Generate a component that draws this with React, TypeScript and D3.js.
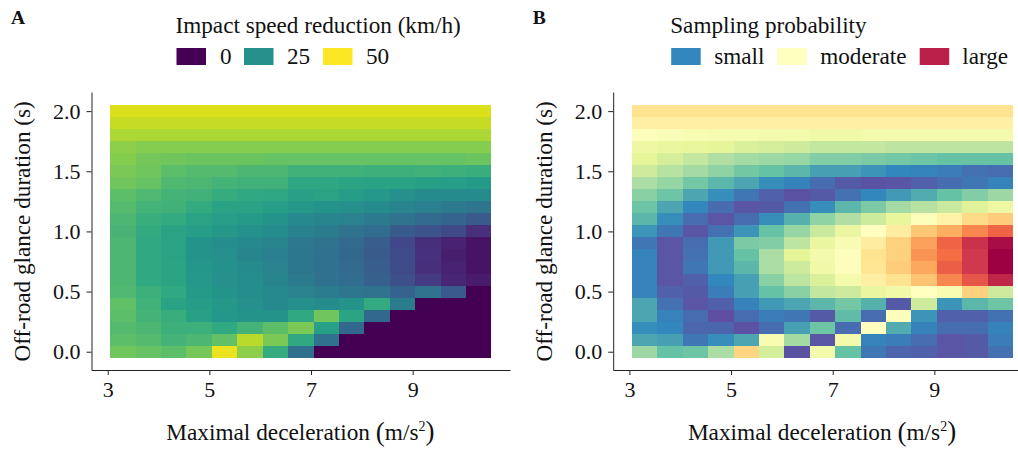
import React, { useEffect, useRef } from "react"
import * as d3 from "d3"

// left edge + half a step, the tiles sit slightly right of the ticks in the source
const deceleration = [3.3, 3.8, 4.3, 4.8, 5.3, 5.8, 6.3, 6.8, 7.3, 7.8, 8.3, 8.8, 9.3, 9.8, 10.3]
const glance = [2.0, 1.9, 1.8, 1.7, 1.6, 1.5, 1.4, 1.3, 1.2, 1.1, 1.0, 0.9, 0.8, 0.7, 0.6, 0.5, 0.4, 0.3, 0.2, 0.1, 0.0]
const xTicks = [3, 5, 7, 9]
const yTicks = [0, 0.5, 1, 1.5, 2]

// km/h, one row per glance duration, top to bottom
const speedReduction = [
	[47.5, 47.5, 47.5, 47.5, 47.5, 47.5, 47.5, 47.5, 47.5, 47.5, 47.5, 47.5, 47.5, 47.5, 47.5],
	[46, 46, 46, 46, 46, 46, 46, 46, 46, 46, 46, 46, 46, 46, 46],
	[44, 44, 44, 44, 44, 44, 44, 44, 44, 44, 44, 44, 44, 44, 44],
	[41.5, 41, 41, 41, 41, 41, 41, 41, 41, 41, 41, 41, 41, 41, 41],
	[41, 39.5, 39, 38.5, 38.5, 38.5, 38, 38, 38, 38, 38, 38, 38, 38, 38.5],
	[40, 39, 37, 36, 36, 35, 35, 33.5, 33.5, 33.5, 33, 33, 33.5, 33, 32.5],
	[39, 38, 35.5, 35, 34, 33.5, 33.5, 30.5, 30.5, 30, 29.5, 29.5, 29, 28.5, 27.5],
	[37, 35.5, 34, 33.5, 32, 31, 30.5, 29, 29.5, 28, 27, 25, 24, 24, 24],
	[36, 34, 33.5, 31.5, 29.5, 29.5, 28.5, 27, 26, 25, 24, 22.5, 21.5, 20.5, 19.5],
	[35, 32.5, 31.5, 29.5, 28.5, 27.5, 26, 23.5, 23, 22, 20.5, 19, 17, 16, 14],
	[34.5, 31.5, 29.5, 28.5, 27, 25.5, 24.5, 22, 21, 19, 17.5, 14, 12.5, 11, 6.5],
	[35, 31, 29.5, 26, 24.5, 23.5, 22.5, 20, 19, 17, 14.5, 10.5, 6.5, 4.5, 2.5],
	[35, 31, 29.5, 26, 25, 23, 21.5, 19.5, 18.5, 16.5, 14, 11, 7, 4, 2.5],
	[35, 31, 30, 26.5, 25.5, 24, 22, 19.5, 18.5, 17, 14.5, 11, 6.5, 4.5, 2.5],
	[35, 31, 30, 27, 25, 24.5, 22.5, 20.5, 18.5, 17.5, 15, 12, 8.5, 5, 3.5],
	[35.5, 33, 31, 27.5, 26, 24.5, 23.5, 22, 21, 19.5, 19, 15.5, 19, 13.5, 0],
	[37.5, 33.5, 29.5, 28, 27, 25, 23.5, 25, 24, 26, 31.5, 21, 0, 0, 0],
	[37, 34, 32.5, 29, 26.5, 26, 26, 31, 39, 30, 16.5, 0, 0, 0, 0],
	[36, 35, 33, 33, 31, 34, 37, 40, 29, 16.5, 0, 0, 0, 0, 0],
	[37, 36, 34, 35, 37.5, 45, 40, 31, 18.5, 0, 0, 0, 0, 0, 0],
	[39, 38, 37, 39.5, 48.5, 41.5, 32, 18, 0, 0, 0, 0, 0, 0, 0],
]

// 0 = low sampling probability, 1 = high
const samplingProb = [
	[0.59, 0.59, 0.59, 0.59, 0.59, 0.59, 0.59, 0.59, 0.59, 0.59, 0.59, 0.59, 0.59, 0.59, 0.59],
	[0.55, 0.55, 0.55, 0.55, 0.55, 0.55, 0.55, 0.55, 0.55, 0.55, 0.55, 0.55, 0.55, 0.55, 0.55],
	[0.49, 0.48, 0.47, 0.46, 0.46, 0.45, 0.45, 0.44, 0.44, 0.45, 0.45, 0.45, 0.45, 0.45, 0.45],
	[0.43, 0.42, 0.41, 0.4, 0.38, 0.37, 0.36, 0.34, 0.34, 0.34, 0.33, 0.33, 0.33, 0.33, 0.33],
	[0.4, 0.37, 0.34, 0.31, 0.29, 0.28, 0.27, 0.24, 0.24, 0.23, 0.22, 0.21, 0.2, 0.2, 0.2],
	[0.36, 0.32, 0.29, 0.26, 0.22, 0.2, 0.18, 0.14, 0.14, 0.12, 0.1, 0.09, 0.08, 0.06, 0.05],
	[0.3, 0.27, 0.22, 0.18, 0.15, 0.11, 0.09, 0.05, 0.02, 0.005, 0.01, 0.03, 0.05, 0.07, 0.09],
	[0.25, 0.21, 0.15, 0.11, 0.07, 0.03, 0.005, 0.02, 0.06, 0.1, 0.13, 0.16, 0.2, 0.24, 0.28],
	[0.21, 0.15, 0.1, 0.05, 0.01, 0.02, 0.06, 0.11, 0.18, 0.23, 0.29, 0.32, 0.35, 0.39, 0.43],
	[0.18, 0.11, 0.05, 0.01, 0.05, 0.11, 0.17, 0.26, 0.31, 0.36, 0.41, 0.49, 0.54, 0.61, 0.64],
	[0.12, 0.07, 0.01, 0.06, 0.12, 0.2, 0.27, 0.35, 0.42, 0.5, 0.56, 0.65, 0.7, 0.76, 0.82],
	[0.07, 0.01, 0.05, 0.13, 0.23, 0.24, 0.33, 0.42, 0.47, 0.56, 0.63, 0.72, 0.82, 0.92, 0.98],
	[0.09, 0.01, 0.06, 0.13, 0.2, 0.3, 0.4, 0.45, 0.49, 0.59, 0.63, 0.74, 0.8, 0.91, 1],
	[0.09, 0.01, 0.07, 0.13, 0.18, 0.3, 0.36, 0.44, 0.49, 0.58, 0.64, 0.71, 0.83, 0.91, 1],
	[0.09, 0.01, 0.03, 0.1, 0.14, 0.25, 0.33, 0.38, 0.45, 0.55, 0.59, 0.66, 0.76, 0.85, 0.94],
	[0.09, 0.03, 0.02, 0.08, 0.14, 0.2, 0.25, 0.34, 0.36, 0.42, 0.44, 0.5, 0.47, 0.63, 0.36],
	[0.15, 0.06, 0.01, 0.03, 0.09, 0.13, 0.15, 0.18, 0.22, 0.17, 0.02, 0.36, 0.12, 0.18, 0.21],
	[0.15, 0.09, 0.05, 0, 0.05, 0.08, 0.07, 0.02, 0.19, 0.05, 0.49, 0.12, 0.03, 0.03, 0.06],
	[0.11, 0.1, 0.04, 0.04, 0.005, 0.05, 0.14, 0.21, 0.05, 0.5, 0.16, 0.09, 0.05, 0.05, 0.09],
	[0.15, 0.14, 0.07, 0.11, 0.15, 0.47, 0.29, 0.01, 0.45, 0.09, 0.08, 0.05, 0.01, 0.02, 0.08],
	[0.28, 0.2, 0.21, 0.3, 0.62, 0.37, 0.005, 0.45, 0.2, 0.07, 0.04, 0.03, 0.01, 0.02, 0.06],
]

const speedLegend = [
	{ label: "0", value: 0 },
	{ label: "25", value: 25 },
	{ label: "50", value: 50 },
]
const samplingLegend = [
	{ label: "small", value: 0.1 },
	{ label: "moderate", value: 0.5 },
	{ label: "large", value: 0.95 },
]

const font = "'Liberation Serif', serif"

// the greens in the source are a bit washed out compared to plain viridis
const greyMix = d3.scaleLinear().domain([0, 0.5, 0.7, 0.9, 1]).range([0, 0.04, 0.15, 0.06, 0])
const speedColor = (v: number) => {
	const t = v / 50
	return d3.interpolateRgb(d3.interpolateViridis(t), "#808080")(greyMix(t))
}

// straight interpolation between the brewer stops
const spectral = d3
	.scaleLinear<string>()
	.domain(d3.range(11).map(i => i / 10))
	.range([...d3.schemeSpectral[11]].reverse())
const samplingColor = (v: number) => spectral(v)

const x0 = d3.scaleLinear().domain([2.681, 10.915]).range([91.5, 510])
const y = d3.scaleLinear().domain([-0.152, 2.159]).range([370, 92])

type PanelProps = {
	offset: number
	letter: string
	title: string
	values: number[][]
	color: (v: number) => string
	legend: { label: string; value: number }[]
	swatchX: number[]
	textX: number[]
}

const Panel = ({ offset, letter, title, values, color, legend, swatchX, textX }: PanelProps) => {
	const xAxisRef = useRef<SVGGElement>(null)
	const yAxisRef = useRef<SVGGElement>(null)
	const tileW = x0(deceleration[1]) - x0(deceleration[0])
	const tileH = y(glance[1]) - y(glance[0])

	useEffect(() => {
		d3.select(xAxisRef.current)
			.call(
				d3.axisBottom(x0).tickValues(xTicks).tickFormat(d3.format("d")).tickSizeInner(5).tickSizeOuter(0).tickPadding(6) as any,
			)
			.call(g => g.selectAll("text").attr("font-size", 22).attr("font-family", font).attr("fill", "#111"))
			.call(g => g.selectAll("path,line").attr("stroke", "#222"))
		d3.select(yAxisRef.current)
			.call(
				d3.axisLeft(y).tickValues(yTicks).tickFormat(d3.format(".1f")).tickSizeInner(5).tickSizeOuter(0).tickPadding(6) as any,
			)
			.call(g => g.selectAll("text").attr("font-size", 22).attr("font-family", font).attr("fill", "#111"))
			.call(g => g.selectAll("path,line").attr("stroke", "#222"))
	}, [])

	return (
		<g transform={`translate(${offset},0)`}>
			{values.map((row, i) =>
				row.map((v, j) => (
					<rect
						key={`${i}-${j}`}
						x={x0(deceleration[j]) - tileW / 2}
						y={y(glance[i]) - tileH / 2}
						width={tileW}
						height={tileH}
						fill={color(v)}
						shapeRendering="crispEdges"
					/>
				)),
			)}
			<g ref={xAxisRef} transform="translate(0,370)" />
			<g ref={yAxisRef} transform="translate(91.5,0)" />
			<text x={x0(6.79)} y={440} textAnchor="middle" fontSize={23.3} fontFamily={font} fill="#111">
				Maximal deceleration <tspan fontSize={27} dy={1}>(</tspan><tspan dy={-1}>m/s</tspan><tspan dy={-9} fontSize={14}>2</tspan><tspan dy={9} fontSize={27}>)</tspan>
			</text>
			<text
				transform={`translate(30,${y(1)}) rotate(-90)`}
				textAnchor="middle"
				fontSize={23.2}
				fontFamily={font}
				fill="#111"
			>
				Off-road glance duration (s)
			</text>
			<text x={11} y={24} fontSize={19.5} fontWeight="bold" fontFamily={font} fill="#111">
				{letter}
			</text>
			<text x={swatchX[0] - 1} y={33} fontSize={23.2} fontFamily={font} fill="#111">
				{title}
			</text>
			{legend.map((d, i) => (
				<g key={d.label}>
					<rect x={swatchX[i]} y={48} width={29.5} height={17} fill={color(d.value)} />
					<text x={textX[i]} y={64} fontSize={23.2} fontFamily={font} fill="#111">
						{d.label}
					</text>
				</g>
			))}
		</g>
	)
}

const App = () => {
	return (
		<svg
			width={1018}
			height={449}
			viewBox="0 0 1018 449"
			style={{ position: "absolute", left: 0, top: 0, background: "#fff" }}
		>
			<Panel
				offset={0}
				letter="A"
				title="Impact speed reduction (km/h)"
				values={speedReduction}
				color={speedColor}
				legend={speedLegend}
				swatchX={[176.5, 244, 323]}
				textX={[220, 287, 366]}
			/>
			<Panel
				offset={521.7}
				letter="B"
				title="Sampling probability"
				values={samplingProb}
				color={samplingColor}
				legend={samplingLegend}
				swatchX={[149.5, 255.5, 398]}
				textX={[192.5, 298.5, 440.5]}
			/>
		</svg>
	)
}

export default App
